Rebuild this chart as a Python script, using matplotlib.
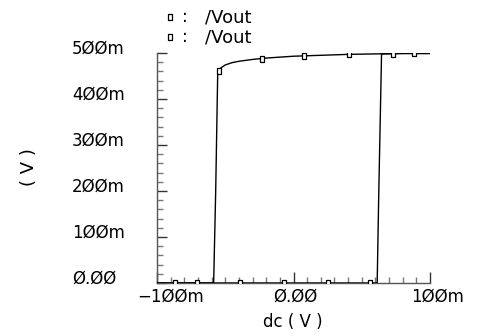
import matplotlib
matplotlib.use("Agg")
import matplotlib.pyplot as plt
from matplotlib.lines import Line2D
from matplotlib.transforms import ScaledTranslation
import numpy as np

# ---- data (values in volts) ----
# forward sweep: switches near -58 mV
fwd_x = [-0.100, -0.0585, -0.057, -0.0555, -0.053, -0.050, -0.045, -0.040, -0.030,
         -0.020, -0.010, 0.000, 0.020, 0.040, 0.060, 0.080, 0.100]
fwd_y = [0.000, 0.000, 0.200, 0.460, 0.468, 0.474, 0.479, 0.482, 0.486,
         0.489, 0.491, 0.493, 0.495, 0.497, 0.498, 0.499, 0.499]
fwd_mx = [-0.087, -0.0547, -0.0234, 0.008, 0.0409, 0.073]
fwd_my = [0.000, 0.460, 0.487, 0.494, 0.497, 0.4985]

# reverse sweep: switches near +61 mV
rev_x = [-0.100, 0.0613, 0.0625, 0.0645, 0.080, 0.100]
rev_y = [0.000, 0.000, 0.200, 0.498, 0.499, 0.499]
rev_mx = [-0.0708, -0.0394, -0.0073, 0.0255, 0.0562, 0.0883]
rev_my = [0.000, 0.000, 0.000, 0.000, 0.000, 0.499]

xticks = [-0.1, 0.0, 0.1]
xticklabels = ["\u22121\u00d8\u00d8m", "\u00d8.\u00d8\u00d8", "1\u00d8\u00d8m"]
yticks = [0.0, 0.1, 0.2, 0.3, 0.4, 0.5]
yticklabels = ["\u00d8.\u00d8\u00d8", "1\u00d8\u00d8m", "2\u00d8\u00d8m",
               "3\u00d8\u00d8m", "4\u00d8\u00d8m", "5\u00d8\u00d8m"]
legend_labels = ["/Vout", "/Vout"]
xlabel = "dc ( V )"
ylabel = "( V )"

W, H = 480, 336
FS = 12
fig = plt.figure(figsize=(4.8, 3.36), dpi=100)
fig.patch.set_facecolor("white")
ax = fig.add_axes([157 / W, (H - 283) / H, (430 - 157) / W, (283 - 53) / H])

rect = [(-0.6, -1), (0.6, -1), (0.6, 1), (-0.6, 1), (-0.6, -1)]
mk = dict(marker=rect, markersize=4.6, markerfacecolor="white",
          markeredgecolor="black", markeredgewidth=0.9, linestyle="none")

ax.plot(fwd_x, fwd_y, color="black", lw=1.0, solid_joinstyle="miter", zorder=3)
ax.plot(rev_x, rev_y, color="black", lw=1.0, solid_joinstyle="miter", zorder=3)
ax.plot(fwd_mx, fwd_my, **mk, zorder=4)
ax.plot(rev_mx, rev_my, **mk, zorder=4)

ax.set_xlim(-0.1, 0.1)
ax.set_ylim(0.0, 0.5)
for s in ["top", "right"]:
    ax.spines[s].set_visible(False)
for s in ["left", "bottom"]:
    ax.spines[s].set_color("#555555")
    ax.spines[s].set_linewidth(1.0)

ax.set_xticks(xticks)
ax.set_xticks(np.arange(-0.1, 0.1001, 0.01), minor=True)
ax.set_yticks(yticks)
ax.set_yticks(np.arange(0.0, 0.5001, 0.02), minor=True)
ax.tick_params(axis="both", which="major", direction="in", length=7, width=1.0,
               color="#333333", labelsize=FS)
ax.tick_params(axis="x", which="major", length=8)
ax.tick_params(axis="both", which="minor", direction="in", length=4, width=1.0,
               color="#777777")

ax.set_xticklabels(xticklabels, fontfamily="DejaVu Sans", fontsize=FS)
ax.tick_params(axis="x", which="major", pad=3)
ax.set_yticklabels(yticklabels, fontfamily="DejaVu Sans", fontsize=FS, ha="left")
ax.tick_params(axis="y", which="major", pad=(157 - 72) * 0.72)

for lab in ax.get_yticklabels():
    lab.set_transform(lab.get_transform() + ScaledTranslation(0, 0.06, fig.dpi_scale_trans))
xoffs = [0.14, 0.02, 0.08]
for lab, dx in zip(ax.get_xticklabels(), xoffs):
    lab.set_transform(lab.get_transform() + ScaledTranslation(dx, 0, fig.dpi_scale_trans))

fig.text(293 / W, 1 - 322 / H, xlabel, ha="center", va="center", fontsize=FS,
         fontfamily="DejaVu Sans")
fig.text(29 / W, 1 - 167 / H, ylabel, ha="center", va="center", fontsize=FS + 1,
         rotation=90, fontfamily="DejaVu Sans")

# legend
for i, lab in enumerate(legend_labels):
    yy = 1 - (17 + 20 * i) / H
    fig.add_artist(Line2D([170 / W], [yy], transform=fig.transFigure, **mk))
    fig.text(182 / W, yy, ":", ha="left", va="center", fontsize=FS)
    fig.text(205 / W, yy, lab, ha="left", va="center", fontsize=FS + 1)

fig.savefig("out.png", dpi=100, facecolor="white")
